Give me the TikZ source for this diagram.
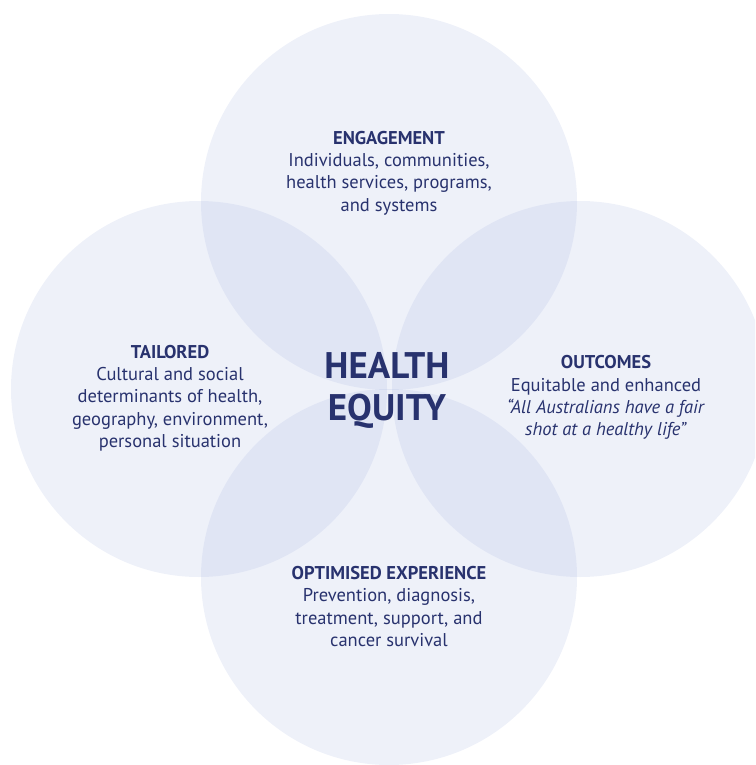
\documentclass[tikz,border=0pt]{standalone}
\usepackage{fontspec}
\setmainfont{PT Sans}
\definecolor{ink}{RGB}{40,50,110}
\definecolor{ring}{RGB}{161,177,222}
\newcommand{\hd}[1]{\textbf{#1}}

\tikzset{
  petal/.style={fill=ring, fill opacity=0.18},
  blurb/.style={text=ink, align=center, inner sep=0pt,
                font=\fontsize{18.5}{22.3}\selectfont},
}

\begin{document}
\begin{tikzpicture}[x=1pt,y=-1pt]
  \useasboundingbox (0,0) rectangle (755,765);
  \clip (0,0) rectangle (755,765);
  % four circles, meeting in the middle
  \fill[petal] (389,202) circle (188pt);
  \fill[petal] (199,389) circle (188pt);
  \fill[petal] (580,389) circle (188pt);
  \fill[petal] (389,577) circle (188pt);
  % labels
  \node[blurb] (engage) at (389,173)
    {\hd{ENGAGEMENT}\\Individuals, communities,\\health services, programs,\\and systems};
  \node[blurb] (tailor) at (170,398)
    {\hd{TAILORED}\\Cultural and social\\determinants of health,\\geography, environment,\\personal situation};
  \node[blurb] (outcome) at (606,397.5)
    {\hd{OUTCOMES}\\Equitable and enhanced\\\textit{“All Australians have a fair}\\\textit{shot at a healthy life”}};
  \node[blurb] (optim) at (389,606.5)
    {\hd{OPTIMISED EXPERIENCE}\\Prevention, diagnosis,\\treatment, support, and\\cancer survival};
  \node[text=ink, align=center, inner sep=0pt,
        font=\fontsize{37}{42}\selectfont\bfseries] (equity) at (387,390)
    {HEALTH\\EQUITY};
\end{tikzpicture}
\end{document}
